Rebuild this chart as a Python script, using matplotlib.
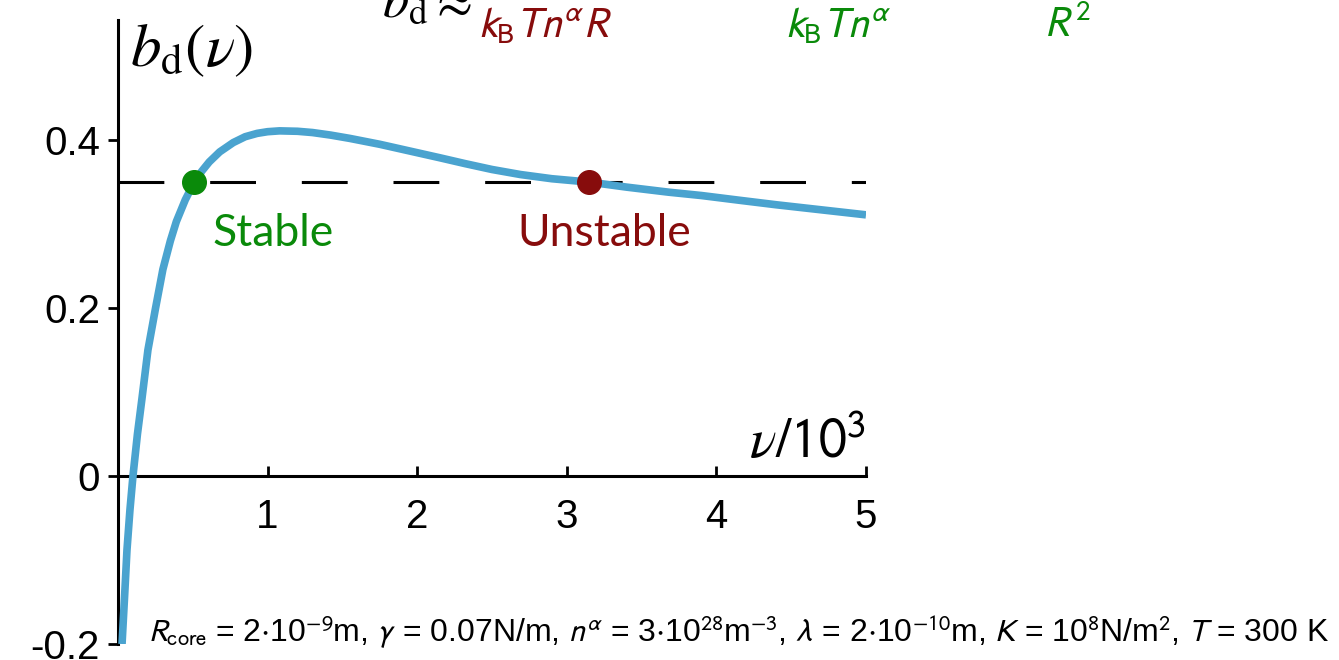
import matplotlib
matplotlib.use('Agg')
import matplotlib.pyplot as plt

# curve b_d(nu) (nu in units of 10^3)
nu = [0.027, 0.045, 0.06, 0.08, 0.10, 0.13, 0.16, 0.20, 0.25, 0.30, 0.35, 0.39, 0.45, 0.51,
      0.56, 0.61, 0.68, 0.77, 0.85, 0.93, 1.0, 1.08, 1.20, 1.30, 1.42, 1.55, 1.75, 1.95,
      2.15, 2.32, 2.50, 2.69, 2.90, 3.15, 3.40, 3.68, 3.90, 4.17, 4.40, 4.60, 4.80, 5.0]
b_d = [-0.2, -0.14, -0.088, -0.04, 0.0, 0.05, 0.092, 0.15, 0.199, 0.246, 0.28, 0.303, 0.329,
       0.35, 0.363, 0.374, 0.386, 0.397, 0.404, 0.408, 0.410, 0.411, 0.4105, 0.409, 0.406,
       0.402, 0.395, 0.387, 0.379, 0.372, 0.365, 0.359, 0.354, 0.35, 0.344, 0.338, 0.334,
       0.328, 0.323, 0.319, 0.315, 0.311]

b_level = 0.35
stable_pt = (0.51, 0.35)
unstable_pt = (3.15, 0.35)

xticks = [1, 2, 3, 4, 5]
yticks = [-0.2, 0, 0.2, 0.4]
ytick_labels = ['-0.2', '0', '0.2', '0.4']

blue = '#4aa3cf'
green = '#0a8a0a'
darkred = '#870c0c'

fig = plt.figure(figsize=(13.39, 6.6), dpi=100)
ax = fig.add_axes([118 / 1339, 16 / 660, 748 / 1339, 624 / 660])
ax.set_xlim(0, 5)
ax.set_ylim(-0.2, 0.543)

ax.plot([0, 5], [b_level, b_level], color='black', lw=2.2, dashes=(15, 15), zorder=2)
ax.plot(nu, b_d, color=blue, lw=5.5, solid_capstyle='butt', solid_joinstyle='round', zorder=3)
ax.plot(*stable_pt, 'o', color=green, ms=17, zorder=4)
ax.plot(*unstable_pt, 'o', color=darkred, ms=17, zorder=4)

ax.text(1.04, 0.289, 'Stable', color=green, fontsize=32, family='Lato',
        ha='center', va='center')
ax.text(3.25, 0.289, 'Unstable', color=darkred, fontsize=32, family='Lato',
        ha='center', va='center')

for s in ['top', 'right']:
    ax.spines[s].set_visible(False)
ax.spines['bottom'].set_position(('data', 0))
ax.spines['left'].set_linewidth(2.2)
ax.spines['bottom'].set_linewidth(2.2)

ax.set_xticks(xticks)
ax.set_xticklabels([str(t) for t in xticks])
ax.set_yticks(yticks)
ax.set_yticklabels(ytick_labels)
ax.tick_params(axis='x', direction='in', length=7, width=2, pad=16)
ax.tick_params(axis='y', direction='out', length=7, width=2, pad=6)
for lab in ax.get_xticklabels() + ax.get_yticklabels():
    lab.set_family('Liberation Sans')
    lab.set_fontsize(29)

# axis labels
fig.text(130 / 1339, 1 - 50 / 660, r'$b_{\mathrm{d}}(\nu)$', fontsize=44,
         math_fontfamily='stix', ha='left', va='center')
ax.text(5.0, 0.021, r'$\nu/\mathsf{10}^{\mathsf{3}}$', fontsize=40,
        math_fontfamily='stix', ha='right', va='baseline')

# cut-off formula at the top
fig.text(382 / 1339, 1 - 2 / 660, r'$b_{\mathrm{d}}\approx$', fontsize=38,
         math_fontfamily='stix', ha='left', va='center')
fig.text(545 / 1339, 1 - 25 / 660, r'$k_{\mathrm{B}}Tn^{\alpha}R$', fontsize=30,
         color=darkred, math_fontfamily='stixsans', ha='center', va='center')
fig.text(838 / 1339, 1 - 25 / 660, r'$k_{\mathrm{B}}Tn^{\alpha}$', fontsize=30,
         color=green, math_fontfamily='stixsans', ha='center', va='center')
fig.text(1068 / 1339, 1 - 25 / 660, r'$R^{2}$', fontsize=30,
         color=green, math_fontfamily='stixsans', ha='center', va='center')

params = (r'$R_{\mathrm{core}}$ = 2$\cdot$10$^{-9}$m, $\gamma$ = 0.07N/m, '
          r'$n^{\alpha}$ = 3$\cdot$10$^{28}$m$^{-3}$, $\lambda$ = 2$\cdot$10$^{-10}$m, '
          r'$K$ = 10$^{8}$N/m$^{2}$, $T$ = 300 K')
fig.text(148 / 1339, 1 - 632 / 660, params, fontsize=23, family='Liberation Sans',
         math_fontfamily='stixsans', ha='left', va='center')

fig.savefig('out.png', dpi=100)
